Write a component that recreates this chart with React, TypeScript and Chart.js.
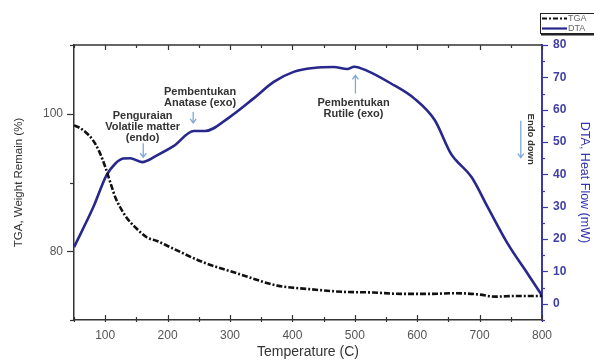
import React, { useEffect, useRef } from 'react';
import { Chart, registerables } from 'chart.js';

Chart.register(...registerables);

// ---- data ----
const tgaTemps = [50, 60, 70, 80, 90, 100, 110, 116, 124, 135, 148, 167, 183, 204, 257, 311, 376, 426, 480, 530, 574, 620, 660, 700, 724, 760, 800];
const tgaValues = [98.3, 97.9, 97.2, 96.2, 94.6, 92.3, 89.5, 87.9, 86.4, 84.8, 83.5, 82.0, 81.5, 80.6, 78.4, 76.8, 75.0, 74.5, 74.1, 74.0, 73.8, 73.8, 73.9, 73.7, 73.4, 73.5, 73.5];

const dtaTemps = [50, 81, 102, 116, 129, 140, 159, 183, 210, 242, 260, 300, 338, 370, 402, 434, 466, 488, 499, 520, 558, 595, 628, 654, 662, 687, 713, 745, 777, 800];
const dtaValues = [17.5, 29.9, 39.7, 43.3, 44.9, 45.0, 43.8, 45.9, 48.8, 53.4, 53.4, 57.8, 63.5, 68.6, 71.7, 72.9, 73.2, 72.6, 73.3, 72.0, 68.1, 63.5, 56.8, 46.4, 44.4, 39.2, 29.9, 18.6, 9.3, 2.6];

const xTickValues = [100, 200, 300, 400, 500, 600, 700, 800];
const leftTickValues = [80, 100];
const rightTickValues = [0, 10, 20, 30, 40, 50, 60, 70, 80];

const seriesNames = ['TGA', 'DTA'];
const xTitle = 'Temperature (C)';
const leftTitle = 'TGA, Weight Remain (%)';
const rightTitle = 'DTA, Heat Flow (mW)';

// annotations, anchored in (temperature, DTA value)
const noteLines = [
  ['Pembentukan', 'Anatase (exo)'],
  ['Penguraian', 'Volatile matter', '(endo)'],
  ['Pembentukan', 'Rutile (exo)'],
];
const noteTemps = [252, 160, 498];
const noteValues = [65.5, 58.1, 62.2];
const arrowTemps = [241, 161, 501, 766];
const arrowFrom = [59.3, 49.6, 65.0, 56.6];
const arrowTo = [55.9, 45.3, 70.6, 45.2];
const endoText = 'Endo down';
const endoTemp = 782;
const endoValue = 50.9;

// ---- styles ----
const FONT = '"Liberation Sans", Arial, sans-serif';
const BLUE = '#27278c';
const AXIS_BLUE = '#3a3aa8';
const GRAY = '#555555';
const ARROW = '#7fa9d9';

const decorPlugin = {
  id: 'decor',
  afterDraw(chart: any) {
    const ctx = chart.ctx as CanvasRenderingContext2D;
    const { left, right, top, bottom } = chart.chartArea;
    const x = chart.scales.x;
    const y = chart.scales.y;
    const y1 = chart.scales.y1;
    ctx.save();

    // top frame line
    ctx.strokeStyle = '#333';
    ctx.lineWidth = 1.5;
    ctx.beginPath();
    ctx.moveTo(left, top);
    ctx.lineTo(right, top);
    ctx.stroke();

    // x ticks (bottom and top, inward)
    ctx.lineWidth = 1.2;
    for (let v = 50; v <= 800; v += 50) {
      const px = Math.round(x.getPixelForValue(v)) + 0.5;
      const len = v % 100 === 0 ? 5 : 3;
      ctx.beginPath();
      ctx.moveTo(px, bottom + 2);
      ctx.lineTo(px, bottom - len);
      ctx.moveTo(px, top);
      ctx.lineTo(px, top + len);
      ctx.stroke();
    }
    // left ticks (outward)
    for (let v = 70; v <= 110; v += 10) {
      const py = Math.round(y.getPixelForValue(v)) + 0.5;
      const len = v % 20 === 0 ? 7 : 4;
      ctx.beginPath();
      ctx.moveTo(left, py);
      ctx.lineTo(left - len, py);
      ctx.stroke();
    }
    // right ticks (blue)
    ctx.strokeStyle = AXIS_BLUE;
    for (let v = -5; v <= 80; v += 5) {
      const py = Math.round(y1.getPixelForValue(v)) + 0.5;
      const len = v % 10 === 0 ? 6 : 3;
      ctx.beginPath();
      ctx.moveTo(right - 1, py);
      ctx.lineTo(right + len, py);
      ctx.stroke();
    }

    // annotations
    ctx.fillStyle = '#333';
    ctx.font = `bold 11px ${FONT}`;
    ctx.textAlign = 'center';
    ctx.textBaseline = 'middle';
    noteLines.forEach((lines, i) => {
      const cx = x.getPixelForValue(noteTemps[i]);
      const cy = y1.getPixelForValue(noteValues[i]);
      lines.forEach((t, j) => ctx.fillText(t, cx, cy + j * 11));
    });

    // arrows
    ctx.strokeStyle = ARROW;
    ctx.lineWidth = 1.3;
    arrowTemps.forEach((t, i) => {
      const ax = x.getPixelForValue(t);
      const ya = y1.getPixelForValue(arrowFrom[i]);
      const yb = y1.getPixelForValue(arrowTo[i]);
      const dir = yb > ya ? 1 : -1;
      ctx.beginPath();
      ctx.moveTo(ax, ya);
      ctx.lineTo(ax, yb);
      ctx.moveTo(ax - 3, yb - dir * 4);
      ctx.lineTo(ax, yb);
      ctx.lineTo(ax + 3, yb - dir * 4);
      ctx.stroke();
    });

    // endo down rotated text
    ctx.save();
    ctx.translate(x.getPixelForValue(endoTemp), y1.getPixelForValue(endoValue));
    ctx.rotate(Math.PI / 2);
    ctx.fillStyle = '#333';
    ctx.font = `bold 9.5px ${FONT}`;
    ctx.textAlign = 'center';
    ctx.textBaseline = 'middle';
    ctx.fillText(endoText, 0, 0);
    ctx.restore();

    // legend
    const lx = 540, ly = 13, lw = 56, lh = 20;
    ctx.fillStyle = '#fff';
    ctx.fillRect(lx, ly, lw, lh);
    ctx.strokeStyle = '#222';
    ctx.lineWidth = 1;
    ctx.strokeRect(lx + 0.5, ly + 0.5, lw, lh);
    ctx.lineWidth = 2;
    ctx.beginPath();
    ctx.moveTo(lx + 1, ly + lh + 1.5);
    ctx.lineTo(lx + lw + 1.5, ly + lh + 1.5);
    ctx.stroke();
    ctx.lineWidth = 2.2;
    ctx.strokeStyle = '#111';
    ctx.setLineDash([5, 2, 2, 2]);
    ctx.beginPath();
    ctx.moveTo(lx + 2, ly + 5.5);
    ctx.lineTo(lx + 27, ly + 5.5);
    ctx.stroke();
    ctx.setLineDash([]);
    ctx.strokeStyle = BLUE;
    ctx.beginPath();
    ctx.moveTo(lx + 2, ly + 15.5);
    ctx.lineTo(lx + 27, ly + 15.5);
    ctx.stroke();
    ctx.fillStyle = '#666';
    ctx.font = `9px ${FONT}`;
    ctx.textAlign = 'left';
    ctx.textBaseline = 'middle';
    ctx.fillText(seriesNames[0], lx + 28, ly + 5.5);
    ctx.fillText(seriesNames[1], lx + 28, ly + 15.5);

    ctx.restore();
  },
};

export default function App() {
  const ref = useRef<HTMLCanvasElement | null>(null);

  useEffect(() => {
    document.body.style.margin = '0';
    if (!ref.current) return;
    const chart = new Chart(ref.current, {
      type: 'line',
      data: {
        datasets: [
          {
            label: seriesNames[0],
            data: tgaTemps.map((t, i) => ({ x: t, y: tgaValues[i] })),
            yAxisID: 'y',
            borderColor: '#111',
            borderWidth: 2.6,
            borderDash: [6, 2, 2, 2],
            pointRadius: 0,
            cubicInterpolationMode: 'monotone',
            fill: false,
          },
          {
            label: seriesNames[1],
            data: dtaTemps.map((t, i) => ({ x: t, y: dtaValues[i] })),
            yAxisID: 'y1',
            borderColor: BLUE,
            borderWidth: 2.6,
            pointRadius: 0,
            cubicInterpolationMode: 'monotone',
            fill: false,
          },
        ],
      },
      options: {
        animation: false,
        responsive: false,
        devicePixelRatio: 1,
        layout: { padding: { left: 0, right: 0, top: 45, bottom: 0 } },
        plugins: { legend: { display: false }, tooltip: { enabled: false } },
        scales: {
          x: {
            type: 'linear',
            position: 'bottom',
            min: 50,
            max: 800,
            afterBuildTicks: (s: any) => { s.ticks = xTickValues.map((v) => ({ value: v })); },
            afterFit: (s: any) => { s.height = 42; },
            grid: { display: false, drawTicks: false },
            border: { display: true, color: '#333', width: 1.5 },
            ticks: { color: GRAY, font: { family: FONT, size: 12 }, padding: 8, maxRotation: 0 },
            title: { display: true, text: xTitle, color: '#333', font: { family: FONT, size: 14 }, padding: { top: 2, bottom: 1 } },
          },
          y: {
            type: 'linear',
            position: 'left',
            min: 70,
            max: 110,
            afterBuildTicks: (s: any) => { s.ticks = leftTickValues.map((v) => ({ value: v })); },
            afterFit: (s: any) => { s.width = 74; },
            grid: { display: false, drawTicks: false },
            border: { display: true, color: '#333', width: 1.5 },
            ticks: { color: GRAY, font: { family: FONT, size: 12 }, padding: 11 },
            title: { display: true, text: leftTitle, color: '#333', font: { family: FONT, size: 11.5 }, padding: { top: 12, bottom: 0 } },
          },
          y1: {
            type: 'linear',
            position: 'right',
            min: -5,
            max: 80,
            afterBuildTicks: (s: any) => { s.ticks = rightTickValues.map((v) => ({ value: v })); },
            afterFit: (s: any) => { s.width = 52; },
            grid: { display: false, drawTicks: false },
            border: { display: true, color: AXIS_BLUE, width: 2 },
            ticks: { color: '#4040a8', font: { family: FONT, size: 12, weight: 'bold' }, padding: 11 },
            title: { display: true, text: rightTitle, color: '#3434b0', font: { family: FONT, size: 12.5 }, padding: { top: 2, bottom: 0 } },
          },
        },
      },
      plugins: [decorPlugin],
    } as any);
    return () => chart.destroy();
  }, []);

  return (
    <div style={{ width: 594, height: 362, background: '#fff' }}>
      <canvas ref={ref} width={594} height={362} style={{ display: 'block' }} />
    </div>
  );
}
